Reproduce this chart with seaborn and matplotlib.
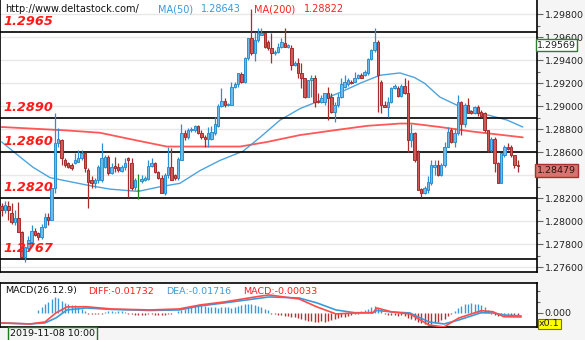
import numpy as np
import pandas as pd
import matplotlib
matplotlib.use("Agg")
import matplotlib.pyplot as plt
import matplotlib.transforms as mtransforms
import seaborn as sns

# ---------------- data (prices in pips: price * 10000) ----------------
open_pips = [12813,12810,12813,12807,12799,12803,12791,12769,12777,12782,
             12792,12790,12786,12795,12804,12801,12829,12868,12871,12853,
             12851,12849,12851,12852,12855,12859,12845,12836,12833,12836,
             12836,12847,12856,12842,12848,12847,12844,12847,12855,12851,
             12830,12827,12835,12836,12837,12848,12851,12843,12838,12825,
             12840,12847,12840,12838,12853,12877,12873,12879,12879,12883,
             12877,12873,12872,12872,12877,12883,12900,12905,12901,12901,
             12917,12919,12928,12921,12942,12959,12946,12958,12962,12964,
             12956,12951,12946,12947,12952,12955,12952,12951,12936,12938,
             12929,12925,12908,12923,12925,12905,12904,12904,12912,12908,
             12895,12901,12908,12917,12919,12921,12921,12925,12927,12927,
             12929,12941,12949,12956,12921,12901,12899,12904,12916,12916,
             12909,12918,12912,12871,12877,12860,12828,12825,12827,12833,
             12847,12849,12840,12849,12865,12879,12869,12877,12904,12885,
             12901,12896,12894,12899,12895,12894,12879,12862,12872,12851,
             12833,12858,12865,12865,12858,12849]
close_pips = [12810,12814,12810,12799,12803,12791,12769,12778,12784,12792,
              12788,12786,12795,12804,12801,12829,12868,12872,12855,12849,
              12847,12846,12853,12855,12859,12846,12834,12833,12836,12847,
              12855,12856,12842,12847,12846,12845,12847,12851,12853,12829,
              12836,12827,12837,12838,12848,12851,12843,12838,12825,12840,
              12847,12836,12838,12854,12877,12873,12879,12880,12883,12877,
              12873,12872,12877,12878,12885,12900,12905,12901,12902,12917,
              12919,12929,12921,12942,12959,12946,12958,12964,12964,12952,
              12951,12946,12947,12952,12956,12952,12953,12936,12938,12929,
              12925,12908,12923,12925,12904,12904,12907,12912,12907,12895,
              12901,12908,12919,12921,12923,12920,12925,12927,12925,12930,
              12941,12949,12956,12927,12901,12899,12904,12916,12918,12909,
              12918,12912,12871,12877,12853,12827,12825,12829,12834,12849,
              12849,12840,12849,12865,12878,12869,12877,12904,12885,12901,
              12894,12894,12899,12894,12892,12879,12862,12872,12851,12833,
              12859,12865,12863,12858,12849,12848]
high_pips = [12816,12818,12818,12816,12810,12817,12792,12778,12787,12797,
             12794,12791,12798,12807,12807,12829,12894,12881,12872,12855,
             12852,12851,12859,12862,12862,12860,12846,12839,12838,12849,
             12868,12858,12858,12851,12856,12851,12849,12855,12856,12855,
             12838,12841,12840,12839,12853,12855,12852,12844,12840,12842,
             12865,12864,12841,12856,12885,12879,12881,12882,12884,12884,
             12879,12875,12882,12883,12891,12902,12916,12907,12903,12921,
             12921,12929,12930,12943,12959,12985,12965,12968,12968,12964,
             12958,12964,12949,12955,12959,12968,12954,12953,12939,12942,
             12938,12925,12923,12927,12927,12912,12910,12912,12917,12912,
             12904,12912,12925,12927,12925,12923,12930,12928,12929,12932,
             12942,12950,12968,12958,12923,12905,12908,12917,12919,12918,
             12919,12925,12923,12885,12878,12862,12829,12831,12839,12853,
             12853,12853,12851,12869,12882,12881,12881,12910,12905,12903,
             12907,12897,12900,12901,12897,12895,12879,12873,12873,12852,
             12859,12866,12868,12866,12858,12853]
low_pips = [12805,12807,12801,12798,12797,12791,12768,12765,12775,12781,
            12787,12784,12785,12794,12797,12801,12825,12865,12849,12847,
            12846,12845,12850,12852,12853,12843,12812,12829,12829,12833,
            12834,12846,12840,12841,12843,12843,12843,12845,12821,12827,
            12827,12819,12833,12835,12836,12847,12842,12837,12825,12823,
            12838,12836,12836,12836,12853,12871,12872,12878,12878,12876,
            12872,12865,12865,12871,12875,12882,12899,12899,12900,12901,
            12916,12917,12920,12920,12940,12945,12939,12956,12962,12951,
            12949,12938,12945,12946,12951,12952,12951,12932,12935,12925,
            12916,12907,12908,12908,12899,12903,12903,12901,12888,12894,
            12886,12899,12907,12916,12918,12919,12921,12924,12925,12926,
            12927,12940,12947,12895,12894,12899,12891,12903,12915,12908,
            12908,12911,12860,12865,12852,12827,12821,12824,12825,12832,
            12840,12839,12839,12847,12865,12868,12865,12875,12875,12882,
            12894,12893,12893,12892,12891,12878,12860,12860,12843,12833,
            12833,12856,12862,12856,12846,12843]

# moving averages (candle index, pips)
ma50_idx = [0, 5.5, 9.4, 14.5, 19.6, 26.5, 32.5, 41, 47.5, 53.5, 59.5, 65.6, 72.5, 77.6,
            83.6, 89.6, 95.6, 101.6, 107.6, 113.6, 119.6, 124, 127, 131.6, 136.7, 141.5,
            146.6, 151.8, 156.5]
ma50_pips = [12869, 12856, 12847, 12838, 12835, 12831, 12828, 12826, 12830, 12833, 12844,
             12853, 12861, 12873, 12888, 12898, 12905, 12912, 12920, 12927, 12929, 12925,
             12920, 12908, 12901, 12895, 12892, 12888, 12882]
ma200_idx = [0, 19.6, 29.5, 39.4, 49.6, 54.5, 59.5, 71.6, 79.7, 89.6, 99.5, 109.7, 119.6,
             123.2, 131.6, 141.5, 156.5]
ma200_pips = [12882, 12879, 12877, 12871, 12865, 12865, 12865, 12865, 12869, 12875, 12879,
              12883, 12885, 12885, 12882, 12878, 12873]

# support / resistance levels
levels = [1.2965, 1.2890, 1.2860, 1.2820, 1.2767]
level_labels = ["1.2965", "1.2890", "1.2860", "1.2820", "1.2767"]

# MACD panel
diff_idx = [0, 8.5, 13, 16.3, 19.6, 25.3, 33, 44.5, 53.3, 59.6, 66.8, 78, 80.3, 89.3, 94.7,
            100.4, 106, 111.5, 112.7, 117.2, 122.6, 128.3, 132.8, 137.3, 144, 147.5, 150.8, 156]
diff_vals = [-0.041, -0.045, -0.037, -0.001, 0.023, 0.024, 0.015, 0.011, 0.015, 0.031, 0.043,
             0.067, 0.071, 0.055, 0.023, -0.005, -0.001, 0.0, 0.019, 0.003, -0.005, -0.049,
             -0.057, -0.021, 0.008, 0.004, -0.016, -0.017]
dea_vals = [-0.041, -0.045, -0.041, -0.021, 0.011, 0.019, 0.013, 0.009, 0.011, 0.027, 0.039,
            0.059, 0.063, 0.059, 0.039, 0.011, 0.0, 0.0, 0.009, 0.003, -0.001, -0.037, -0.045,
            -0.029, 0.0, -0.001, -0.009, -0.013]
hist_vals = ([-0.003] * 11 +
             [0.012, 0.024, 0.036, 0.044, 0.056, 0.064, 0.060, 0.048, 0.040, 0.036, 0.032,
              0.031, 0.024, 0.016, 0.008] +
             [-0.004] * 5 +
             [0.004, 0.006, 0.006, 0.004, 0.006, 0.008, 0.004] +
             [-0.004, -0.006, -0.008, -0.008, -0.010, -0.008, -0.006, -0.006, -0.008, -0.010,
              -0.010, -0.008, -0.006, -0.004, -0.002] +
             [0.008, 0.012, 0.016, 0.020, 0.024, 0.028, 0.032, 0.030, 0.026, 0.024, 0.022,
              0.022, 0.020, 0.022, 0.024, 0.022, 0.020, 0.024, 0.028, 0.032, 0.036, 0.034,
              0.036, 0.030, 0.028, 0.024, 0.016, 0.010] +
             [-0.004, -0.006, -0.008, -0.010, -0.012, -0.014, -0.016, -0.018, -0.020, -0.024,
              -0.028, -0.032, -0.034, -0.036, -0.036, -0.034, -0.036, -0.032, -0.028, -0.026,
              -0.022, -0.018, -0.016, -0.012, -0.010, -0.006, -0.004] +
             [0.006, 0.010, 0.016, 0.022, 0.028, 0.020, 0.010] +
             [-0.004, -0.008, -0.010, -0.010, -0.012, -0.010, -0.014, -0.020, -0.024, -0.030,
              -0.036, -0.042, -0.046, -0.048, -0.044, -0.040, -0.036, -0.030, -0.024, -0.014,
              -0.006] +
             [0.008, 0.020, 0.028, 0.034, 0.036, 0.038, 0.036, 0.036, 0.030, 0.022, 0.012] +
             [-0.004, -0.008, -0.012, -0.010, -0.008, -0.006, -0.008, -0.010, -0.008])

doji_index = [41]
price_ticks = [1.276, 1.278, 1.280, 1.282, 1.284, 1.286, 1.288, 1.290, 1.292, 1.294, 1.296, 1.298]
hidden_tick = 1.284   # covered by the last-price box in the reference

# ---------------- styling ----------------
sns.set_theme(style="white")
plt.rcParams["font.family"] = ["DejaVu Sans"]

UP_EDGE, UP_FACE = "#2b8fd0", "#6fbbe8"
DN_EDGE, DN_FACE = "#a82c2c", "#cf5a5a"
MA50_C, MA200_C = "#3a9ad9", "#ff3b3b"

df = pd.DataFrame({
    "i": np.arange(len(open_pips)),
    "open": np.array(open_pips) / 1e4,
    "close": np.array(close_pips) / 1e4,
    "high": np.array(high_pips) / 1e4,
    "low": np.array(low_pips) / 1e4,
})
df["up"] = df["close"] >= df["open"]

W, H = 585, 340
fig = plt.figure(figsize=(W / 100, H / 100), dpi=100, facecolor="#f5f5f5")

px_right = 537
ax = fig.add_axes([0, 68 / H, px_right / W, 272 / H])
ax.set_facecolor("white")
ymin = 1.298 - (272 - 14.3) / 11500
ymax = 1.298 + 14.3 / 11500
ax.set_ylim(ymin, ymax)
ax.set_xlim(-0.5, (px_right - 1.67) / 3.33)

for p in price_ticks:
    ax.axhline(p, color="#e8e8e8", lw=1.0, zorder=0)

# MA lines
sns.lineplot(x=ma200_idx, y=np.array(ma200_pips) / 1e4, ax=ax, color=MA200_C, lw=1.3,
             alpha=0.85, zorder=2)
sns.lineplot(x=ma50_idx, y=np.array(ma50_pips) / 1e4, ax=ax, color=MA50_C, lw=1.0,
             alpha=0.9, zorder=2)

# level lines
for lv, lab in zip(levels, level_labels):
    ax.axhline(lv, color="black", lw=1.2, zorder=3)
    ax.annotate(lab, xy=(0, lv), xycoords=("axes fraction", "data"),
                xytext=(3, 4), textcoords="offset pixels", ha="left", va="bottom",
                color="#ff1a1a", fontsize=9.3, fontweight="bold", fontstyle="italic",
                zorder=6)

# candles
for _, r in df.iterrows():
    i = int(r["i"])
    if i in doji_index:
        ax.vlines(i, r["low"], r["high"], color="#1f8a1f", lw=0.9, zorder=4)
        ax.hlines(r["open"], i - 0.35, i + 0.35, color="#1f8a1f", lw=0.9, zorder=4)
        continue
    edge = UP_EDGE if r["up"] else DN_EDGE
    face = UP_FACE if r["up"] else DN_FACE
    ax.vlines(i, r["low"], r["high"], color=edge, lw=0.9, zorder=4)
    lo, hi = min(r["open"], r["close"]), max(r["open"], r["close"])
    ax.bar(i, max(hi - lo, 0.00001), bottom=lo, width=0.72, color=face, edgecolor=edge,
           linewidth=0.7, zorder=5)

ax.yaxis.tick_right()
ax.set_yticks(price_ticks)
ax.set_yticklabels(["" if abs(t - hidden_tick) < 1e-9 else f"{t:.5f}" for t in price_ticks])
ax.set_yticks(np.arange(1.276, 1.299, 0.001), minor=True)
ax.tick_params(axis="y", which="major", right=True, length=4, width=0.8, color="#666666",
               labelsize=6.8, labelcolor="#222222", pad=1.5)
ax.tick_params(axis="y", which="minor", right=True, length=2.5, width=0.8, color="#666666")
ax.set_xticks([])
ax.spines["top"].set_visible(False)
for s in ["left", "right", "bottom"]:
    ax.spines[s].set_color("black")
    ax.spines[s].set_linewidth(1.2)

# header texts
ax.text(5, H - 9, "http://www.deltastock.com/", transform=None, fontsize=7,
        color="#111111", va="center", ha="left")
ax.text(158, H - 9, "MA(50)", transform=None, fontsize=7, color=MA50_C, va="center")
ax.text(201, H - 9, "1.28643", transform=None, fontsize=7, color=MA50_C, va="center")
ax.text(254, H - 9, "MA(200)", transform=None, fontsize=7, color="#ff2020", va="center")
ax.text(304, H - 9, "1.28822", transform=None, fontsize=7, color="#ff2020", va="center")

trans = mtransforms.blended_transform_factory(ax.transAxes, ax.transData)
ax.text(1.0, 1.29569, "1.29569", transform=trans, fontsize=6.8, color="#222222",
        ha="left", va="top", clip_on=False, zorder=10,
        bbox=dict(boxstyle="square,pad=0.15", facecolor="white", edgecolor="#2e7d32", lw=1))
ax.text(1.0, 1.28479, "1.28479", transform=trans, fontsize=6.8, color="#331111",
        ha="left", va="top", clip_on=False, zorder=10,
        bbox=dict(boxstyle="square,pad=0.2", facecolor="#d9736f", edgecolor="#a83030", lw=1))

# ---------------- MACD panel ----------------
mx = fig.add_axes([0, 13 / H, px_right / W, 44 / H])
mx.set_facecolor("white")
mx.set_xlim(ax.get_xlim())
mx.set_ylim(-0.0572, 0.1188)
hist_x = np.arange(len(hist_vals))
hist_colors = ["#3a9ad9" if v >= 0 else "#b03232" for v in hist_vals]
mx.vlines(hist_x, 0, hist_vals, colors=hist_colors, lw=1.0, zorder=2)
sns.lineplot(x=diff_idx, y=dea_vals, ax=mx, color="#3a9ad9", lw=1.2, zorder=3)
sns.lineplot(x=diff_idx, y=diff_vals, ax=mx, color="#ff4a4a", lw=1.2, zorder=3)
mx.yaxis.tick_right()
mx.set_yticks([0.0])
mx.set_yticklabels(["0.000"])
mx.set_yticks([-0.044, 0.044, 0.088], minor=True)
mx.tick_params(axis="y", which="major", right=True, length=4, width=0.8, color="#666666",
               labelsize=6.8, labelcolor="#222222", pad=1.5)
mx.tick_params(axis="y", which="minor", right=True, length=2.5, width=0.8, color="#666666")
mx.set_xticks([])
for s in ["left", "right", "bottom", "top"]:
    mx.spines[s].set_color("black")
    mx.spines[s].set_linewidth(1.2)

mtxt_y = H - 291
fig.text(5 / W, mtxt_y / H, "MACD(26.12.9)", fontsize=6.8, color="#111111", va="center")
fig.text(88 / W, mtxt_y / H, "DIFF:-0.01732", fontsize=6.8, color="#ff2020", va="center")
fig.text(166 / W, mtxt_y / H, "DEA:-0.01716", fontsize=6.8, color="#3a9ad9", va="center")
fig.text(243 / W, mtxt_y / H, "MACD:-0.00033", fontsize=6.8, color="#ff2020", va="center")

fig.text(539 / W, (H - 324) / H, "x0.1", fontsize=6.8, color="#222222", va="center",
         bbox=dict(boxstyle="square,pad=0.1", facecolor="#ffff00", edgecolor="#777700", lw=0.8))
fig.text(10 / W, (H - 334) / H, "2019-11-08 10:00", fontsize=6.8, color="#111111",
         va="center", ha="left",
         bbox=dict(boxstyle="square,pad=0.25", facecolor="#f5f5f5", edgecolor="#1b7a1b", lw=1))

fig.savefig("out.png", dpi=100, facecolor=fig.get_facecolor())
